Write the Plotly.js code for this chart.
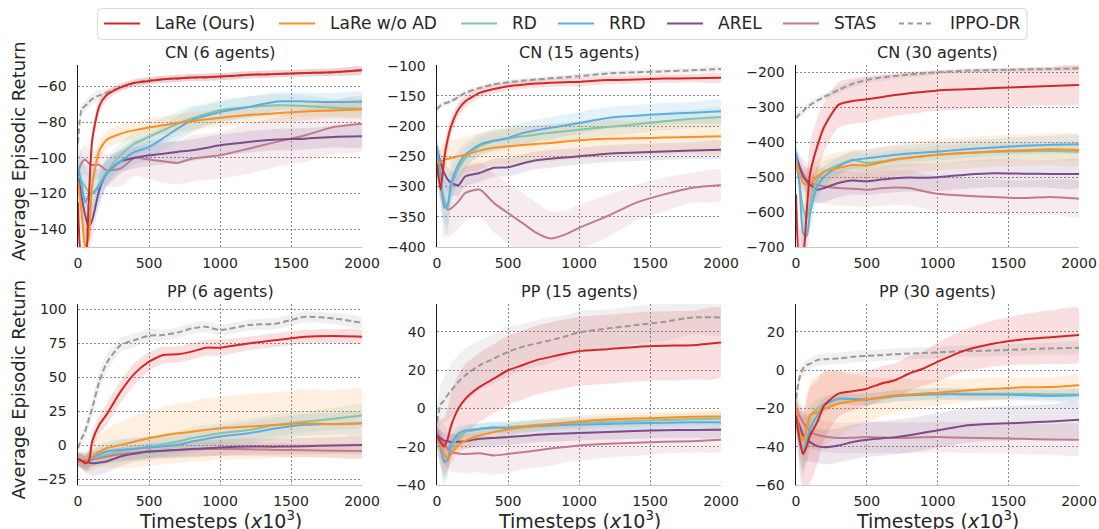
<!DOCTYPE html>
<html>
<head>
<meta charset="utf-8">
<script src="https://cdn.plot.ly/plotly-3.0.1.min.js"></script>
<style>html,body{margin:0;padding:0;background:#fff;}#chart{width:1099px;height:529px;}</style>
</head>
<body>
<div id="chart"></div>
<script>
// Timesteps (x10^3) sample positions
const X = [0, 25, 50, 75, 100, 150, 200, 300, 400, 500, 600, 700, 800, 900, 1000, 1200, 1400, 1600, 1800, 2000];
const SERIES = ['LaRe (Ours)', 'LaRe w/o AD', 'RD', 'RRD', 'AREL', 'STAS', 'IPPO-DR'];
const COLORS = ['#d62728', '#ff9020', '#86c4a8', '#5dade2', '#7b4b8c', '#c27a8f', '#999999'];
const FILLS = ['rgba(214,39,40,0.15)', 'rgba(255,144,32,0.14)', 'rgba(134,196,168,0.16)', 'rgba(93,173,226,0.16)', 'rgba(123,75,140,0.14)', 'rgba(194,122,143,0.15)', 'rgba(153,153,153,0.15)'];
const TITLES = ['CN (6 agents)', 'CN (15 agents)', 'CN (30 agents)', 'PP (6 agents)', 'PP (15 agents)', 'PP (30 agents)'];
const XTICKS = [0, 500, 1000, 1500, 2000];

// ---- CN (6 agents) ----
const cn6_lare = [-125,-158,-160,-125,-90,-71,-65,-60.5,-58,-57,-56,-55.5,-55,-54.8,-54.5,-53.5,-53,-52.5,-52,-51];
const cn6_lare_sd = [4,6,6,6,6,4,3,2,2,2,2,2,2,2,2,2,2,2,2,2];
const cn6_woad = [-113,-130,-150,-145,-115,-96,-90,-86.5,-84.5,-83,-81.8,-80.5,-79.5,-78.5,-77.5,-76,-75,-74,-73.5,-72.8];
const cn6_woad_sd = [10,12,12,10,8,6,5,5,5,5,5,5,5,5,5,5,5,5,4,4];
const cn6_rd = [-110,-113,-116,-119,-120,-114.5,-108,-98.5,-92,-88.3,-84.6,-81,-78,-75.5,-73.4,-71.6,-70.6,-71,-72,-72.5];
const cn6_rd_sd = [12,12,12,10,9,8,7,7,7,7,7,7,7,6,6,6,6,6,5,5];
const cn6_rrd = [-105,-115,-125,-121,-120,-116,-109,-102,-96.7,-94,-89,-83.7,-79,-76.5,-74.4,-71.6,-68.4,-68.4,-68.8,-68.4];
const cn6_rrd_sd = [15,18,20,18,15,10,8,7,7,7,7,7,7,6,6,6,5,5,5,5];
const cn6_arel = [-108,-122,-132,-139,-135,-118,-109,-102,-100,-98.6,-97.7,-96.7,-95.8,-94.5,-93,-91.1,-89.8,-89.3,-88.3,-88];
const cn6_arel_sd = [10,12,12,12,10,8,7,6,6,6,6,6,6,6,6,6,6,6,6,6];
const cn6_stas = [-108,-103,-101,-103,-104,-104,-107,-106,-100,-101,-102,-102.9,-100.5,-99.5,-98.6,-94.9,-91.1,-87.4,-82.8,-80.9];
const cn6_stas_sd = [8,8,8,8,8,8,9,10,10,11,12,12,13,13,13,14,14,15,15,15];
const cn6_ippo = [-92,-73,-71,-69,-67,-65,-63.5,-60.5,-58,-56.5,-56,-55.5,-55,-55,-54.5,-53.5,-53,-52.5,-52,-51];
const cn6_ippo_sd = [4,3,3,3,3,3,2,2,2,2,2,2,2,2,2,2,2,2,2,2];

// ---- CN (15 agents) ----
const cn15_lare = [-262,-305,-255,-222,-200,-173,-159,-145,-138.6,-134,-131.5,-129.8,-128.5,-127.5,-127,-124,-123,-121.5,-121,-120];
const cn15_lare_sd = [15,20,20,18,15,12,10,8,8,7,7,7,7,7,7,7,7,7,7,7];
const cn15_woad = [-266,-260,-256,-254,-253,-250,-248,-240.6,-236,-233.4,-231.5,-229.6,-228,-225.5,-223.5,-221,-220.2,-219,-218,-217];
const cn15_woad_sd = [20,25,28,30,30,30,30,30,30,30,30,30,30,30,30,30,28,28,28,28];
const cn15_rd = [-245,-290,-320,-335,-300,-272,-253,-233,-225,-221,-217,-214,-211,-208.5,-206,-201.5,-197,-192,-188,-185];
const cn15_rd_sd = [15,25,35,30,25,20,18,15,15,15,15,15,15,15,15,15,15,15,15,15];
const cn15_rrd = [-233,-280,-335,-330,-294,-264,-247,-230.7,-224,-219.7,-212,-207,-203,-199,-195,-186.6,-183,-180,-178,-175.5];
const cn15_rrd_sd = [15,30,50,45,35,25,20,18,18,18,18,18,18,18,18,18,18,18,18,18];
const cn15_arel = [-239,-260,-277.5,-288,-294,-298,-283,-277.5,-269,-268,-262,-256.6,-254,-252,-250,-245.6,-243.8,-242,-240.6,-239];
const cn15_arel_sd = [15,18,20,20,20,18,16,15,15,15,15,15,15,14,14,14,14,14,14,14];
const cn15_stas = [-266,-300,-325,-338,-336,-325,-310.6,-305,-327,-344,-360,-376.8,-386,-379.6,-368.5,-349,-327,-313,-302,-298];
const cn15_stas_sd = [20,30,40,45,45,45,45,45,48,50,50,50,45,40,38,35,30,28,25,25];
const cn15_ippo = [-172,-166,-163,-161,-159,-152,-145,-137,-131,-127.6,-125,-123,-121,-119.5,-117.6,-113,-111,-109.5,-107.7,-105.5];
const cn15_ippo_sd = [6,5,5,5,5,5,4,4,4,4,4,4,4,4,4,4,4,4,4,4];

// ---- CN (30 agents) ----
const cn30_lare = [-550,-730,-720,-600,-489,-412,-355,-293,-282,-277,-271,-265,-260,-256,-252,-248.6,-245,-242,-239,-236];
const cn30_lare_sd = [60,80,100,100,90,80,70,65,65,65,62,60,60,58,58,56,55,55,55,55];
const cn30_woad = [-455,-490,-515,-522,-517,-498,-484,-474,-465,-467,-458,-450,-445,-440,-436,-431,-426,-423,-420,-422];
const cn30_woad_sd = [20,30,40,45,45,45,45,45,45,45,45,45,45,45,45,45,45,45,45,45];
const cn30_rd = [-460,-520,-590,-620,-574,-507.6,-484,-465,-450,-460,-455,-448.6,-444,-440,-436,-431,-428,-426,-425,-427];
const cn30_rd_sd = [25,35,50,50,45,35,30,25,25,25,25,25,25,25,25,25,25,25,25,25];
const cn30_rrd = [-430,-520,-660,-670,-603,-527,-498,-469.5,-452,-446,-441,-436,-432,-429.5,-427,-420,-415,-410,-407.6,-405.7];
const cn30_rrd_sd = [25,40,60,60,50,40,30,25,25,25,25,25,25,25,25,25,25,25,25,25];
const cn30_arel = [-436,-470,-498,-512,-522,-536,-531,-517,-509.5,-512,-507,-503,-501,-502,-500,-493,-489,-490,-491,-491];
const cn30_arel_sd = [25,30,35,40,40,40,40,40,40,40,40,40,40,40,40,40,40,40,40,40];
const cn30_stas = [-440,-470,-488.6,-505,-517,-522,-526.7,-531,-533,-536,-532,-529.5,-531,-540,-547.6,-553,-557,-560,-557,-562];
const cn30_stas_sd = [25,35,40,45,45,50,50,50,50,50,50,50,50,50,50,50,50,50,50,50];
const cn30_ippo = [-331,-320,-312,-300,-293,-281,-270,-250.5,-233,-222,-215,-210.5,-206,-203,-200,-195,-193.5,-192,-190.5,-188.5];
const cn30_ippo_sd = [12,10,10,10,10,10,10,10,10,10,10,8,8,8,6,6,6,6,5,5];

// ---- PP (6 agents) ----
const pp6_lare = [-9.8,-11,-13,-11.7,2.9,15.2,22.5,39.6,53,61.6,66.5,67,69,71.9,71.9,75,77.5,80,80.4,80];
const pp6_lare_sd = [5,5,5,6,7,7,8,8,8,7,6,6,6,6,6,5,5,5,5,5];
const pp6_woad = [-9.8,-11,-13,-10.5,-8,-4.4,-2,0.4,2.9,5.3,7.3,9,10.2,11.5,12.7,13.9,15.2,16.4,15.6,16.4];
const pp6_woad_sd = [5,6,8,9,10,12,14,17,19,20,21,22,22,23,23,24,24,25,25,25];
const pp6_rd = [-10,-11,-13,-11,-9.3,-8,-6.8,-4.4,-2.5,-0.8,1,2.9,5.3,7.2,9,11.4,15.2,17.6,19.6,22];
const pp6_rd_sd = [4,5,5,6,6,7,7,8,8,8,8,8,8,8,8,8,8,8,8,8];
const pp6_rrd = [-10,-11,-13,-11,-9.3,-6.5,-4.4,-3.2,-2.3,-1.5,-0.5,0.4,2.9,4.8,6.6,9,12.7,15.2,15.9,16.4];
const pp6_rrd_sd = [4,5,5,6,6,7,7,8,8,8,8,8,8,8,8,8,8,8,8,8];
const pp6_arel = [-10,-11,-12,-12.5,-13,-12.5,-11.8,-8,-6,-4.4,-3.8,-3.2,-2.6,-2,-1.5,-0.8,-0.8,-0.5,0,0.4];
const pp6_arel_sd = [5,6,7,8,9,9,8,7,6,6,6,6,6,6,6,6,6,6,6,6];
const pp6_stas = [-12,-11.5,-11,-10.8,-10.5,-9.2,-8,-6.4,-5.3,-4.4,-3.8,-3.2,-2.8,-2.6,-2.5,-2.8,-3.2,-3.5,-3.8,-4];
const pp6_stas_sd = [5,5,5,5,5,5,5,5,5,5,5,5,5,5,5,5,5,5,5,5];
const pp6_ippo = [-2,5,10.3,19,27.4,47,60.4,73.8,77.5,80.7,81.2,83,86,87.3,84.8,88.5,89.7,94.6,93.4,90.2];
const pp6_ippo_sd = [3,4,5,6,7,7,6,5,5,5,4,4,4,4,4,4,4,4,4,4];

// ---- PP (15 agents) ----
const pp15_lare = [-14.2,-17.6,-19.9,-16,-8.9,-0.2,5,11.2,15.5,19.9,22.5,25.2,26.9,28.5,29.9,30.9,32.1,32.7,33,34.4];
const pp15_lare_sd = [8,12,15,16,17,18,18,18,18,18,18,18,18,18,18,18,18,18,18,18];
const pp15_woad = [-14.2,-19,-24,-26,-23.8,-19.4,-16.8,-14.2,-12.4,-11,-9.9,-8.9,-8.2,-7.5,-6.8,-5.8,-5.3,-4.9,-4.4,-4.2];
const pp15_woad_sd = [4,5,6,6,5,4,4,3,3,3,3,3,3,3,3,3,3,3,3,3];
const pp15_rd = [-14.2,-20,-27,-27,-21,-15,-12.4,-11,-10.4,-9.8,-9.2,-8.6,-8.2,-7.8,-7.5,-7,-6.6,-6.1,-5.7,-5.4];
const pp15_rd_sd = [5,8,10,8,5,4,3,3,3,3,3,3,3,3,3,3,3,3,3,3];
const pp15_rrd = [-14.2,-21,-28,-27,-18.5,-13.3,-11.5,-10.7,-9.8,-10.3,-9.8,-9.3,-9,-8.7,-8.4,-8.1,-7.8,-7.5,-7.3,-7.2];
const pp15_rrd_sd = [5,10,12,8,5,4,3,3,3,3,3,3,3,3,3,3,3,3,3,3];
const pp15_arel = [-14.2,-15.5,-16.8,-17.2,-17.6,-17.4,-17.1,-15.9,-15.4,-15,-14.4,-13.8,-13.4,-13.1,-12.8,-12.3,-11.8,-11.4,-11.3,-11.2];
const pp15_arel_sd = [4,4,4,4,4,4,4,4,4,4,4,4,4,4,4,4,4,4,4,4];
const pp15_stas = [-12.4,-15.5,-18.5,-21,-22.9,-23.5,-23.8,-23.4,-24.6,-23.8,-22.9,-22,-21,-20.2,-19.4,-18.5,-17.9,-17.4,-17.1,-16.4];
const pp15_stas_sd = [6,8,10,10,10,10,10,10,10,10,9,9,9,8,8,7,7,6,6,6];
const pp15_ippo = [-7.2,2,4.2,7,9.4,13.8,17.3,22.5,26,29.5,32.1,33.9,35.6,37.5,39.7,41.7,43.5,45.2,47.5,47.5];
const pp15_ippo_sd = [8,10,12,13,14,14,14,13,13,13,12,12,12,11,11,10,10,10,9,9];

// ---- PP (30 agents) ----
const pp30_lare = [-23.7,-36,-44,-40,-34,-27.2,-18.4,-12.3,-11.1,-9.7,-7.1,-5.3,-1.8,0.8,4.3,10.4,13.9,16,17.2,18.3];
const pp30_lare_sd = [10,15,20,25,25,22,18,12,10,9,9,9,9,9,10,11,12,13,14,14];
const pp30_woad = [-20,-32.4,-36.8,-30.7,-23.7,-21.9,-20.2,-17.6,-16.3,-15.3,-14.2,-13.2,-12.7,-12.2,-11.8,-10.6,-9.8,-9,-8.8,-7.9];
const pp30_woad_sd = [8,12,15,17,18,19,19,17,14,12,10,9,8,7,7,6,6,5,5,5];
const pp30_rd = [-24,-36,-42,-33,-23.7,-20.2,-17.6,-15.3,-15.3,-15.3,-14.5,-13.5,-13,-12.6,-12.3,-12.3,-12.3,-12.4,-12.6,-12.8];
const pp30_rd_sd = [6,8,10,8,6,5,4,3,3,3,3,3,3,3,3,3,3,3,3,3];
const pp30_rrd = [-24,-38,-43,-38,-30.7,-23.7,-18.4,-14.9,-15.1,-15.3,-14.5,-13.5,-13.1,-12.9,-12.7,-12.7,-12.8,-13,-13.5,-13.2];
const pp30_rrd_sd = [6,10,12,10,8,5,4,3,3,3,3,3,3,3,3,3,3,3,3,3];
const pp30_arel = [-23.7,-29,-34.1,-36,-37.6,-39.7,-40.3,-39.4,-37.6,-36.4,-35.7,-35,-34,-32.7,-31.5,-28.9,-28,-27.5,-26.8,-25.9];
const pp30_arel_sd = [8,10,12,12,10,9,9,9,9,9,9,9,9,9,9,9,9,9,9,9];
const pp30_stas = [-20,-24,-27.2,-30,-32.4,-33.8,-34.7,-35.5,-35.3,-35,-35.2,-35.4,-35.3,-35.1,-35,-35.3,-35.6,-35.9,-36.2,-36.4];
const pp30_stas_sd = [8,8,8,8,8,8,8,8,8,8,8,8,8,8,8,8,8,8,8,8];
const pp30_ippo = [-15,-4,0.8,2.5,3.4,5.2,5.7,6,6.9,7.4,7.8,8.3,8.6,8.9,9.2,9.9,10.2,10.8,11.3,11.6];
const pp30_ippo_sd = [5,4,3,3,3,3,3,3,3,3,3,3,3,3,3,3,3,3,3,3];

const PANELS = [
  {means: [cn6_lare, cn6_woad, cn6_rd, cn6_rrd, cn6_arel, cn6_stas, cn6_ippo],
   sds: [cn6_lare_sd, cn6_woad_sd, cn6_rd_sd, cn6_rrd_sd, cn6_arel_sd, cn6_stas_sd, cn6_ippo_sd],
   yrange: [-150, -48], ytick0: -140, dtick: 20},
  {means: [cn15_lare, cn15_woad, cn15_rd, cn15_rrd, cn15_arel, cn15_stas, cn15_ippo],
   sds: [cn15_lare_sd, cn15_woad_sd, cn15_rd_sd, cn15_rrd_sd, cn15_arel_sd, cn15_stas_sd, cn15_ippo_sd],
   yrange: [-400, -99], ytick0: -400, dtick: 50},
  {means: [cn30_lare, cn30_woad, cn30_rd, cn30_rrd, cn30_arel, cn30_stas, cn30_ippo],
   sds: [cn30_lare_sd, cn30_woad_sd, cn30_rd_sd, cn30_rrd_sd, cn30_arel_sd, cn30_stas_sd, cn30_ippo_sd],
   yrange: [-700, -179], ytick0: -700, dtick: 100},
  {means: [pp6_lare, pp6_woad, pp6_rd, pp6_rrd, pp6_arel, pp6_stas, pp6_ippo],
   sds: [pp6_lare_sd, pp6_woad_sd, pp6_rd_sd, pp6_rrd_sd, pp6_arel_sd, pp6_stas_sd, pp6_ippo_sd],
   yrange: [-29, 104], ytick0: -25, dtick: 25},
  {means: [pp15_lare, pp15_woad, pp15_rd, pp15_rrd, pp15_arel, pp15_stas, pp15_ippo],
   sds: [pp15_lare_sd, pp15_woad_sd, pp15_rd_sd, pp15_rrd_sd, pp15_arel_sd, pp15_stas_sd, pp15_ippo_sd],
   yrange: [-40, 54.5], ytick0: -40, dtick: 20},
  {means: [pp30_lare, pp30_woad, pp30_rd, pp30_rrd, pp30_arel, pp30_stas, pp30_ippo],
   sds: [pp30_lare_sd, pp30_woad_sd, pp30_rd_sd, pp30_rrd_sd, pp30_arel_sd, pp30_stas_sd, pp30_ippo_sd],
   yrange: [-60, 34.5], ytick0: -60, dtick: 20}
];

const W = 1099, H = 529;
const COLS = [[78, 362], [437, 721], [796, 1079]];
const ROWS = [[65, 247], [304, 485]];
const ORDER = [6, 5, 4, 2, 3, 1, 0]; // drawing order
const IPPO_DASH = '6px,3px';
// legend layout (pixels): entry start positions, box
const LEG_X = [104, 279, 461, 558, 667, 783, 899];
const LEG_BOX = [97.5, 8.5, 1027, 39.5];
const LEG_Y = 23.5;

const px = v => v / W, py = v => 1 - v / H;

const traces = [];
const layout = {
  width: W, height: H,
  margin: {l: 0, r: 0, t: 0, b: 0},
  paper_bgcolor: '#ffffff', plot_bgcolor: '#ffffff',
  font: {family: 'DejaVu Sans, sans-serif', size: 14, color: '#262626'},
  showlegend: false,
  annotations: [], shapes: []
};

PANELS.forEach((p, i) => {
  const n = i + 1;
  const xa = 'x' + (n === 1 ? '' : n), ya = 'y' + (n === 1 ? '' : n);
  const col = COLS[i % 3], row = ROWS[Math.floor(i / 3)];
  layout['xaxis' + (n === 1 ? '' : n)] = {
    domain: [px(col[0]), px(col[1])], anchor: ya, range: [0, 2000],
    tickmode: 'array', tickvals: XTICKS, ticktext: XTICKS.map(String),
    showgrid: true, gridcolor: '#6e6e6e', griddash: '2px,2px', gridwidth: 0.8,
    zeroline: false, showline: true, linecolor: '#c8c8c8', linewidth: 1,
    ticks: 'outside', ticklen: 3, tickcolor: 'rgba(0,0,0,0)',
    tickfont: {size: 14, color: '#262626'}, fixedrange: true
  };
  layout['yaxis' + (n === 1 ? '' : n)] = {
    domain: [py(row[1]), py(row[0])], anchor: xa, range: p.yrange,
    tick0: p.ytick0, dtick: p.dtick, tickmode: 'linear',
    showgrid: true, gridcolor: '#6e6e6e', griddash: '2px,2px', gridwidth: 0.8,
    zeroline: false, showline: true, linecolor: '#1a1a1a', linewidth: 1.5,
    ticks: 'outside', ticklen: 7, tickcolor: 'rgba(0,0,0,0)',
    tickfont: {size: 14, color: '#262626'}, fixedrange: true
  };
  // bands
  ORDER.forEach(s => {
    const m = p.means[s], sd = p.sds[s];
    const up = m.map((v, k) => v + sd[k]);
    const lo = m.map((v, k) => v - sd[k]);
    traces.push({
      x: X.concat(X.slice().reverse()), y: up.concat(lo.slice().reverse()),
      xaxis: xa, yaxis: ya, type: 'scatter', mode: 'lines', fill: 'toself',
      fillcolor: FILLS[s], line: {width: 0, shape: 'spline', smoothing: 0.6},
      hoverinfo: 'skip', showlegend: false
    });
  });
  // lines
  ORDER.forEach(s => {
    traces.push({
      x: X, y: p.means[s], xaxis: xa, yaxis: ya, type: 'scatter', mode: 'lines',
      name: SERIES[s],
      line: {color: COLORS[s], width: 2, shape: 'spline', smoothing: 0.6, dash: s === 6 ? IPPO_DASH : 'solid'},
      showlegend: false
    });
  });
  // subplot title
  layout.annotations.push({
    text: TITLES[i], xref: 'paper', yref: 'paper',
    x: px((col[0] + col[1]) / 2), y: py(row[0] - 1), xanchor: 'center', yanchor: 'bottom',
    showarrow: false, font: {size: 16, color: '#262626'}
  });
});

// y-axis titles (left column)
ROWS.forEach(row => {
  layout.annotations.push({
    text: 'Average Episodic Return', xref: 'paper', yref: 'paper',
    x: px(18), y: py((row[0] + row[1]) / 2 - 5), xanchor: 'center', yanchor: 'middle',
    textangle: -90, showarrow: false, font: {size: 18, color: '#262626'}
  });
});
// x-axis titles (bottom row)
COLS.forEach(col => {
  layout.annotations.push({
    text: 'Timesteps (<i>x</i>10<sup>3</sup>)', xref: 'paper', yref: 'paper',
    x: px((col[0] + col[1]) / 2), y: py(520), xanchor: 'center', yanchor: 'middle',
    showarrow: false, font: {size: 19, color: '#262626'}
  });
});

// legend (drawn as shapes + annotations)
(function () {
  const [x0, y0, x1, y1] = LEG_BOX, r = 4;
  const P = (a, b) => px(a) + ',' + py(b);
  const path = 'M' + P(x0 + r, y0) + ' L' + P(x1 - r, y0) + ' Q' + P(x1, y0) + ' ' + P(x1, y0 + r) +
    ' L' + P(x1, y1 - r) + ' Q' + P(x1, y1) + ' ' + P(x1 - r, y1) + ' L' + P(x0 + r, y1) +
    ' Q' + P(x0, y1) + ' ' + P(x0, y1 - r) + ' L' + P(x0, y0 + r) + ' Q' + P(x0, y0) + ' ' + P(x0 + r, y0) + ' Z';
  layout.shapes.push({type: 'path', xref: 'paper', yref: 'paper', path: path,
    fillcolor: '#ffffff', line: {color: '#d9d9d9', width: 1}, layer: 'above'});
  SERIES.forEach((name, s) => {
    layout.shapes.push({type: 'line', xref: 'paper', yref: 'paper',
      x0: px(LEG_X[s]), x1: px(LEG_X[s] + 36), y0: py(LEG_Y), y1: py(LEG_Y),
      line: {color: COLORS[s], width: 2, dash: s === 6 ? '5px,4px' : 'solid'}, layer: 'above'});
    layout.annotations.push({text: name, xref: 'paper', yref: 'paper',
      x: px(LEG_X[s] + 49), y: py(LEG_Y), xanchor: 'left', yanchor: 'middle',
      showarrow: false, font: {size: 17, color: '#262626'}});
  });
})();

Plotly.newPlot('chart', traces, layout, {displayModeBar: false, staticPlot: true});
</script>
</body>
</html>
